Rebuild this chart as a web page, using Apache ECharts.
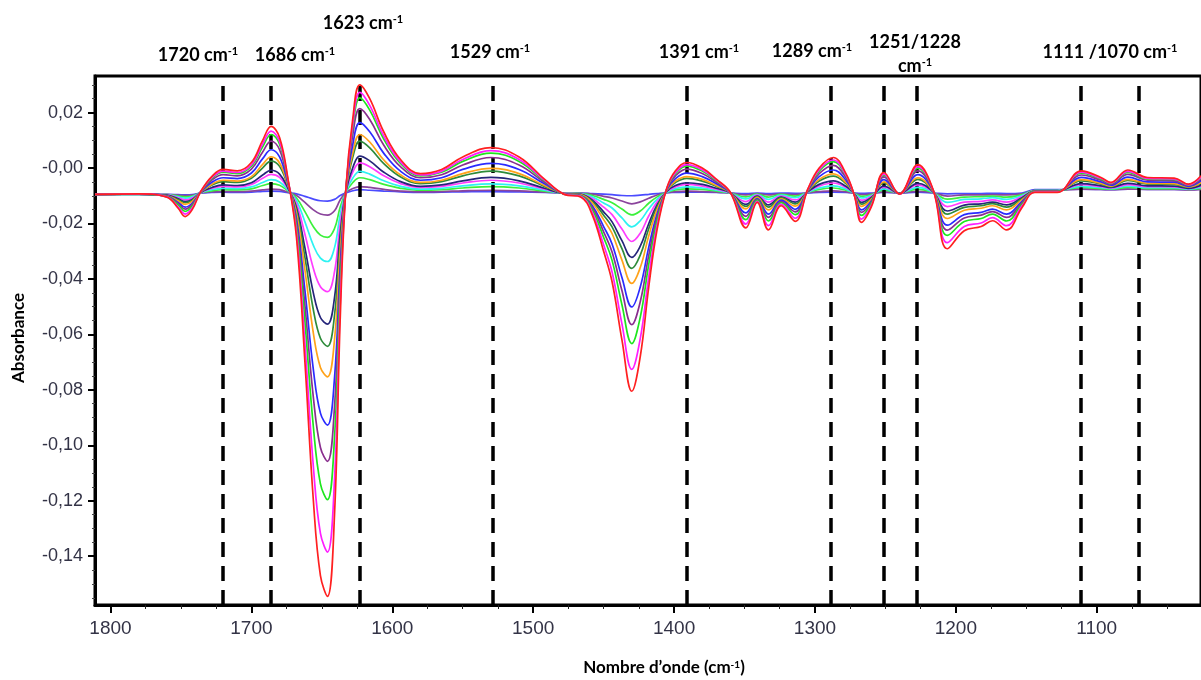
<!DOCTYPE html>
<html><head><meta charset="utf-8">
<script src="https://cdn.jsdelivr.net/npm/echarts@6/dist/echarts.min.js"></script>
<style>html,body{margin:0;padding:0;background:#fff}#c{width:1201px;height:680px}</style>
</head><body><div id="c"></div>
<script>
// Wavenumbers (cm-1), descending
const wavenumbers = [1811,1780,1760,1752,1747,1742,1736,1728,1720,1710,1700,1692,1686,1680,1674,1668,1662,1656,1651,1646,1641,1637,1633,1628,1623,1616,1606,1594,1580,1565,1550,1530,1510,1492,1478,1466,1458,1450,1444,1437,1430,1424,1418,1412,1405,1399,1391,1380,1370,1360,1349,1341,1333,1324,1314,1305,1297,1287,1278,1272,1267,1260,1251,1240,1227,1216,1206,1194,1182,1174,1164,1153,1144,1128,1111,1097,1090,1078,1064,1045,1035,1026];

// Absorbance spectra, weakest to strongest
const s01_blue = [-.0095,-.0095,-.0095,-.0096,-.0097,-.0096,-.009,-.0088,-.0087,-.0088,-.0087,-.0084,-.0083,-.0084,-.0089,-.0093,-.0102,-.0112,-.0118,-.0119,-.0113,-.0099,-.009,-.0082,-.0078,-.008,-.0083,-.0086,-.0088,-.0087,-.0086,-.0085,-.0086,-.0088,-.009,-.009,-.0092,-.0094,-.0096,-.0099,-.01,-.0098,-.0095,-.0092,-.0089,-.0088,-.0087,-.0087,-.0088,-.009,-.0092,-.009,-.0092,-.009,-.0091,-.009,-.0088,-.0087,-.0088,-.009,-.0091,-.009,-.0088,-.009,-.0087,-.009,-.0093,-.0092,-.0092,-.0091,-.0092,-.009,-.0078,-.0078,-.0076,-.0077,-.0078,-.0076,-.0077,-.0077,-.0078,-.0076];
const s02_purple = [-.0095,-.0095,-.0096,-.0098,-.0099,-.0098,-.009,-.0086,-.0085,-.0085,-.0083,-.0079,-.0076,-.0078,-.0087,-.0099,-.0124,-.0151,-.0166,-.017,-.0154,-.0115,-.0089,-.0074,-.0067,-.007,-.0077,-.0083,-.0086,-.0085,-.0082,-.008,-.0082,-.0087,-.009,-.0091,-.0094,-.0102,-.0108,-.0119,-.0129,-.0122,-.0109,-.0097,-.0089,-.0085,-.0083,-.0085,-.0087,-.009,-.0097,-.0092,-.0097,-.0093,-.0096,-.0089,-.0085,-.0082,-.0086,-.0091,-.0096,-.0093,-.0086,-.009,-.0084,-.0089,-.0101,-.0097,-.0097,-.0096,-.0097,-.0093,-.008,-.008,-.0076,-.0077,-.0078,-.0076,-.0077,-.0077,-.0079,-.0077];
const s03_green = [-.0095,-.0095,-.0096,-.0101,-.0104,-.0101,-.0089,-.0082,-.0078,-.0079,-.0075,-.0063,-.0056,-.0062,-.0083,-.0108,-.0157,-.0212,-.0242,-.025,-.0218,-.0141,-.0089,-.0052,-.0035,-.0042,-.0059,-.0073,-.008,-.0078,-.0072,-.0067,-.0072,-.0083,-.0091,-.0092,-.0099,-.0113,-.0125,-.0148,-.0169,-.0155,-.0127,-.0104,-.0087,-.0079,-.0075,-.0077,-.0083,-.009,-.0104,-.0094,-.0105,-.0095,-.0101,-.0088,-.0077,-.0072,-.008,-.0091,-.0102,-.0096,-.008,-.009,-.0076,-.0089,-.0112,-.0105,-.0103,-.0101,-.0105,-.0096,-.0081,-.0081,-.007,-.0074,-.0076,-.007,-.0074,-.0074,-.0077,-.0073];
const s04_cyan = [-.0095,-.0095,-.0097,-.0104,-.0109,-.0104,-.0089,-.0078,-.0073,-.0074,-.0068,-.0052,-.0042,-.005,-.008,-.0117,-.0194,-.0279,-.0325,-.0337,-.0287,-.0168,-.0088,-.0036,-.0012,-.0022,-.0046,-.0066,-.0076,-.0073,-.0064,-.0057,-.0064,-.008,-.0091,-.0093,-.0104,-.0126,-.0144,-.018,-.0212,-.019,-.0148,-.0112,-.0086,-.0074,-.0068,-.0072,-.008,-.009,-.0111,-.0096,-.0113,-.0098,-.0107,-.0087,-.0072,-.0064,-.0076,-.0092,-.0108,-.0099,-.0075,-.0091,-.007,-.0088,-.0124,-.0113,-.0111,-.0107,-.0113,-.0099,-.0081,-.0081,-.0066,-.0071,-.0074,-.0065,-.0071,-.0071,-.0076,-.007];
const s05_magenta = [-.0095,-.0094,-.0097,-.0107,-.0115,-.0108,-.0089,-.0073,-.0066,-.0068,-.0059,-.0037,-.0023,-.0034,-.0076,-.0129,-.0239,-.0362,-.0428,-.0446,-.0374,-.0203,-.0087,-.0014,.0019,.0005,-.0028,-.0056,-.007,-.0066,-.0054,-.0044,-.0054,-.0076,-.0091,-.0094,-.011,-.0141,-.0168,-.022,-.0265,-.0235,-.0173,-.0122,-.0084,-.0068,-.0059,-.0065,-.0076,-.009,-.0121,-.0098,-.0123,-.0101,-.0115,-.0086,-.0065,-.0054,-.007,-.0092,-.0116,-.0102,-.0069,-.0091,-.0061,-.0087,-.0139,-.0123,-.012,-.0115,-.0123,-.0103,-.0082,-.0082,-.006,-.0067,-.0072,-.006,-.0067,-.0068,-.0074,-.0065];
const s06_navy = [-.0095,-.0094,-.0098,-.0111,-.0121,-.0113,-.0088,-.007,-.0061,-.0063,-.0053,-.0025,-.0008,-.0022,-.0073,-.0142,-.0288,-.0451,-.0539,-.0563,-.0467,-.024,-.0087,.0002,.0043,.0026,-.0015,-.0049,-.0066,-.0061,-.0046,-.0034,-.0046,-.0073,-.0092,-.0095,-.0116,-.0158,-.0194,-.0262,-.0322,-.0282,-.0201,-.0132,-.0083,-.0063,-.0053,-.0059,-.0073,-.0089,-.0131,-.0101,-.0133,-.0105,-.0123,-.0085,-.0059,-.0046,-.0066,-.0093,-.0124,-.0106,-.0065,-.0091,-.0055,-.0087,-.0155,-.0134,-.0129,-.0123,-.0133,-.0107,-.0083,-.0083,-.0056,-.0064,-.007,-.0055,-.0064,-.0065,-.0073,-.0062];
const s07_darkgreen = [-.0095,-.0094,-.0099,-.0114,-.0125,-.0116,-.0088,-.0061,-.0049,-.0052,-.0037,.0001,.0025,.0006,-.0066,-.0151,-.0322,-.0512,-.0614,-.0643,-.0531,-.0265,-.0085,.004,.0097,.0073,.0016,-.0032,-.0056,-.0049,-.0028,-.0011,-.0028,-.0066,-.0092,-.0096,-.012,-.017,-.0212,-.0291,-.0362,-.0314,-.0219,-.0139,-.008,-.0052,-.0037,-.0047,-.0066,-.0089,-.0138,-.0103,-.0141,-.0107,-.0129,-.0083,-.0047,-.0029,-.0056,-.0094,-.013,-.0109,-.0054,-.0092,-.0041,-.0085,-.0166,-.0142,-.0136,-.0128,-.0141,-.011,-.0083,-.0083,-.0046,-.0058,-.0067,-.0045,-.0058,-.0059,-.0069,-.0055];
const s08_orange = [-.0095,-.0094,-.01,-.0118,-.0131,-.012,-.0087,-.0058,-.0044,-.0047,-.0031,.0013,.004,.0018,-.0063,-.0163,-.0368,-.0596,-.0719,-.0753,-.0619,-.03,-.0085,.0056,.0121,.0094,.0029,-.0025,-.0052,-.0044,-.002,-.0001,-.002,-.0063,-.0092,-.0097,-.0126,-.0186,-.0236,-.0332,-.0416,-.0359,-.0245,-.0149,-.0079,-.0047,-.0031,-.0041,-.0063,-.0089,-.0147,-.0106,-.0151,-.0111,-.0137,-.0082,-.0041,-.0021,-.0052,-.0095,-.0138,-.0113,-.005,-.0092,-.0035,-.0085,-.0182,-.0152,-.0145,-.0136,-.0151,-.0114,-.0084,-.0084,-.0042,-.0055,-.0065,-.0041,-.0055,-.0056,-.0068,-.0052];
const s09_blue = [-.0095,-.0094,-.0101,-.0124,-.0141,-.0127,-.0087,-.0051,-.0035,-.0038,-.0018,.0034,.0066,.004,-.0057,-.0182,-.0441,-.0728,-.0884,-.0927,-.0757,-.0355,-.0083,.0086,.0164,.0131,.0053,-.0012,-.0044,-.0035,-.0005,.0017,-.0005,-.0057,-.0093,-.0099,-.0136,-.0211,-.0274,-.0395,-.0501,-.0429,-.0286,-.0165,-.0077,-.0038,-.0018,-.0031,-.0057,-.0089,-.0162,-.011,-.0166,-.0116,-.0149,-.008,-.0031,-.0007,-.0044,-.0096,-.0151,-.0119,-.0042,-.0092,-.0024,-.0083,-.0206,-.0168,-.016,-.0148,-.0166,-.012,-.0085,-.0085,-.0034,-.005,-.0062,-.0033,-.005,-.0051,-.0066,-.0046];
const s10_purple = [-.0095,-.0093,-.0102,-.0128,-.0148,-.0132,-.0086,-.0043,-.0024,-.0028,-.0004,.0058,.0097,.0066,-.0051,-.0196,-.0496,-.0828,-.1008,-.1058,-.0861,-.0396,-.0082,.0121,.0214,.0175,.0082,.0004,-.0035,-.0024,.0011,.0038,.0011,-.0051,-.0093,-.01,-.0143,-.023,-.0303,-.0442,-.0565,-.0482,-.0316,-.0176,-.0074,-.0028,-.0004,-.002,-.0051,-.0088,-.0174,-.0113,-.0178,-.0121,-.0158,-.0078,-.002,.001,-.0035,-.0097,-.016,-.0123,-.0032,-.0093,-.001,-.0082,-.0224,-.018,-.017,-.0157,-.0178,-.0125,-.0085,-.0085,-.0025,-.0044,-.0058,-.0023,-.0044,-.0046,-.0063,-.0039];
const s11_green = [-.0095,-.0093,-.0103,-.0133,-.0156,-.0137,-.0086,-.0037,-.0015,-.002,.0007,.0077,.0121,.0086,-.0046,-.0212,-.0554,-.0934,-.1139,-.1196,-.0972,-.044,-.0081,.0148,.0253,.0209,.0104,.0016,-.0028,-.0015,.0024,.0054,.0024,-.0046,-.0094,-.0101,-.0151,-.025,-.0333,-.0493,-.0633,-.0538,-.0348,-.0189,-.0072,-.002,.0007,-.0011,-.0046,-.0088,-.0186,-.0116,-.0191,-.0125,-.0168,-.0077,-.0011,.0023,-.0028,-.0098,-.0171,-.0128,-.0025,-.0093,0,-.0081,-.0243,-.0193,-.0182,-.0166,-.0191,-.013,-.0086,-.0086,-.0018,-.004,-.0055,-.0016,-.004,-.0041,-.0061,-.0034];
const s12_magenta = [-.0095,-.0093,-.0104,-.014,-.0166,-.0144,-.0085,-.0034,-.0011,-.0016,.0012,.0087,.0133,.0096,-.0043,-.0232,-.0633,-.1078,-.1318,-.1385,-.1122,-.0499,-.0081,.0161,.0273,.0226,.0115,.0022,-.0025,-.0011,.0031,.0063,.0031,-.0043,-.0094,-.0103,-.0161,-.0277,-.0375,-.0562,-.0726,-.0615,-.0393,-.0206,-.0071,-.0016,.0012,-.0006,-.0043,-.0088,-.0202,-.012,-.0208,-.0131,-.0181,-.0076,-.0006,.0029,-.0025,-.0099,-.0184,-.0135,-.0021,-.0094,.0005,-.0081,-.0269,-.0211,-.0198,-.0179,-.0208,-.0136,-.0087,-.0087,-.0015,-.0037,-.0054,-.0012,-.0037,-.0039,-.006,-.0032];
const s13_red = [-.0095,-.0093,-.0105,-.0145,-.0175,-.015,-.0085,-.003,-.0005,-.001,.002,.01,.015,.011,-.004,-.025,-.07,-.12,-.147,-.1545,-.125,-.055,-.008,.018,.03,.025,.013,.003,-.002,-.0005,.004,.0074,.004,-.004,-.0095,-.0105,-.017,-.03,-.041,-.062,-.0805,-.068,-.043,-.022,-.007,-.001,.002,0,-.004,-.0088,-.0216,-.0124,-.0223,-.0136,-.0192,-.0075,0,.0038,-.002,-.01,-.0196,-.014,-.0016,-.0094,.0012,-.008,-.0291,-.0226,-.0211,-.019,-.0223,-.0142,-.0088,-.0088,-.001,-.0034,-.0052,-.0007,-.0034,-.0036,-.0058,-.0028];

const spectra = [s01_blue,s02_purple,s03_green,s04_cyan,s05_magenta,s06_navy,s07_darkgreen,s08_orange,s09_blue,s10_purple,s11_green,s12_magenta,s13_red];
const spectraNames = ['s1','s2','s3','s4','s5','s6','s7','s8','s9','s10','s11','s12','s13'];
const spectraColors = ['#4b4bff','#8a449c','#3cf03c','#2ef2f2','#ff3cff','#25257a','#2e8b3a','#ffa21a','#2a2aff','#892e8e','#1ee61e','#ff1eff','#ff2020'];

// Axis ticks
const xTicks = [1800,1700,1600,1500,1400,1300,1200,1100];
const xMinorTicks = [1775,1750,1725,1675,1650,1625,1575,1550,1525,1475,1450,1425,1375,1350,1325,1275,1250,1225,1175,1150,1125,1075,1050];
const yTicks = [0.02,0,-0.02,-0.04,-0.06,-0.08,-0.10,-0.12,-0.14];
const yMinorTicks = [0.03,0.025,0.015,0.01,0.005,-0.005,-0.01,-0.015,-0.025,-0.03,-0.035,-0.045,-0.05,-0.055,-0.065,-0.07,-0.075,-0.085,-0.09,-0.095,-0.105,-0.11,-0.115,-0.125,-0.13,-0.135,-0.145,-0.15,-0.155];

// Band markers
const bandPositions = [1720,1686,1623,1529,1391,1289,1251,1228,1111,1070];
const bandLabelTexts = ['1720 cm','1686 cm','1623 cm','1529 cm','1391 cm','1289 cm','1251/1228','cm','1111 /1070 cm'];
const bandLabelSup = ['-1','-1','-1','-1','-1','-1','','-1','-1'];

const X_MIN = 1026, X_MAX = 1811, Y_MIN = -0.1576, Y_MAX = 0.0332;

const chart = echarts.init(document.getElementById('c'), null, {renderer:'canvas'});

const labelFont = "'Liberation Sans Narrow','Arial Narrow','Liberation Sans',sans-serif";
const boldFont = "Lato,'Open Sans',sans-serif";

const seriesList = spectra.map((arr, i) => ({
  name: spectraNames[i],
  type: 'line',
  xAxisIndex: 0, yAxisIndex: 0,
  data: wavenumbers.map((w, j) => [w, arr[j]]),
  showSymbol: false, symbol: 'none',
  smooth: 0.4,
  lineStyle: {width: 1.7, color: spectraColors[i]},
  itemStyle: {color: spectraColors[i]},
  z: 2 + i,
  animation: false,
  silent: true
}));
seriesList.push({
  name: 'bands', type: 'line', xAxisIndex: 0, yAxisIndex: 0,
  data: [], z: 30, animation: false, silent: true,
  markLine: {
    silent: true, animation: false, symbol: ['none','none'],
    label: {show: false},
    lineStyle: {color: '#000', width: 3.5, type: [15, 9]},
    data: bandPositions.map(v => ({xAxis: v}))
  }
});

// top label positions (pixels)
const labelPos = [[198,55],[295,55],[363,23],[490,52],[699,52],[812,51],[915,42],[915,66],[1110,52]];

const graphics = bandLabelTexts.map((t, i) => ({
  type: 'text', x: labelPos[i][0], y: labelPos[i][1], z: 50,
  style: {
    text: bandLabelSup[i] ? '{a|' + t + '}{s|' + bandLabelSup[i] + '}' : '{a|' + t + '}',
    textAlign: 'center', textVerticalAlign: 'middle',
    rich: {
      a: {fontFamily: boldFont, fontWeight: 'bold', fontSize: 18, fill: '#000'},
      s: {fontFamily: boldFont, fontWeight: 'bold', fontSize: 11, fill: '#000', verticalAlign: 'top'}
    }
  }
}));
graphics.push({
  type: 'text', x: 19, y: 338, rotation: Math.PI / 2, z: 50,
  style: {text: 'Absorbance', textAlign: 'center', textVerticalAlign: 'middle',
    fontFamily: boldFont, fontWeight: 'bold', fontSize: 17, fill: '#000'}
});
graphics.push({
  type: 'text', x: 664, y: 668, z: 50,
  style: {
    text: '{a|Nombre d\u2019onde (cm}{s|-1}{a|)}',
    textAlign: 'center', textVerticalAlign: 'middle',
    rich: {
      a: {fontFamily: boldFont, fontWeight: 'bold', fontSize: 17, fill: '#000'},
      s: {fontFamily: boldFont, fontWeight: 'bold', fontSize: 10, fill: '#000', verticalAlign: 'top'}
    }
  }
});

const yFmt = v => (Math.abs(v) < 1e-9 ? '-0,00' : v.toFixed(2).replace('.', ','));
const xFmt = v => String(Math.round(v));

chart.setOption({
  animation: false,
  backgroundColor: '#fff',
  grid: {left: 95, top: 76, right: -4, bottom: 75, show: true, borderColor: '#000', borderWidth: 3, backgroundColor: 'transparent'},
  xAxis: [{
    type: 'value', inverse: true, min: X_MIN, max: X_MAX, position: 'bottom',
    axisLine: {show: true, onZero: false, lineStyle: {color: '#000', width: 3}},
    axisTick: {show: true, customValues: xTicks, length: 8, lineStyle: {color: '#000', width: 2}},
    axisLabel: {customValues: xTicks, formatter: xFmt, color: '#333346', fontFamily: labelFont, fontSize: 19, margin: 14},
    splitLine: {show: false}
  }, {
    type: 'value', inverse: true, min: X_MIN, max: X_MAX, position: 'bottom',
    axisLine: {show: false, onZero: false},
    axisTick: {show: true, customValues: xMinorTicks, length: 4, lineStyle: {color: '#222', width: 1}},
    axisLabel: {show: false}, splitLine: {show: false}
  }],
  yAxis: [{
    type: 'value', min: Y_MIN, max: Y_MAX, position: 'left',
    axisLine: {show: true, onZero: false, lineStyle: {color: '#000', width: 3}},
    axisTick: {show: true, customValues: yTicks, length: 7, lineStyle: {color: '#000', width: 2}},
    axisLabel: {customValues: yTicks, formatter: yFmt, color: '#333346', fontFamily: labelFont, fontSize: 18, margin: 12},
    splitLine: {show: false}
  }, {
    type: 'value', min: Y_MIN, max: Y_MAX, position: 'left',
    axisLine: {show: false, onZero: false},
    axisTick: {show: true, customValues: yMinorTicks, length: 3, lineStyle: {color: '#444', width: 1}},
    axisLabel: {show: false}, splitLine: {show: false}
  }],
  series: seriesList,
  graphic: graphics
});
</script>
</body></html>
